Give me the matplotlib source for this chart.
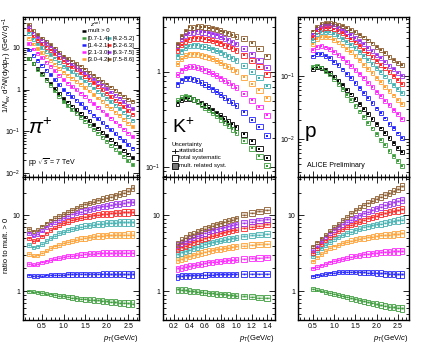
import numpy as np
import matplotlib
matplotlib.use('Agg')
import matplotlib.pyplot as plt
from matplotlib.ticker import MultipleLocator, LogLocator, FuncFormatter, NullFormatter
from matplotlib.patches import Rectangle

plt.rcParams['font.family'] = ['Liberation Sans', 'DejaVu Sans']
plt.rcParams['mathtext.fontset'] = 'custom'
plt.rcParams['mathtext.rm'] = 'Liberation Sans'
plt.rcParams['mathtext.it'] = 'Liberation Sans:italic'
plt.rcParams['mathtext.bf'] = 'Liberation Sans:bold'

# ---------------- data ----------------
classes = ['mult > 0', '[0.7-1.4]', '[1.4-2.1]', '[2.1-3.0]', '[3.0-4.2]',
           '[4.2-5.2]', '[5.2-6.3]', '[6.3-7.5]', '[7.5-8.6]']
colors = ['#000000', '#3c9c3c', '#2222ff', '#ff22ff', '#ffa030',
          '#40b0b0', '#ff2222', '#a030f0', '#8b5a2b']

# pi+
pi_pt = [0.2, 0.3, 0.4, 0.5, 0.6, 0.7, 0.8, 0.9, 1.0, 1.1, 1.2, 1.3, 1.4,
         1.5, 1.6, 1.7, 1.8, 1.9, 2.0, 2.1, 2.2, 2.3, 2.4, 2.5, 2.6]
pi_mb = [5.5, 4.2, 3.2, 2.4, 1.8, 1.38, 1.05, 0.79, 0.60, 0.49, 0.40, 0.33, 0.27,
         0.22, 0.18, 0.145, 0.118, 0.096, 0.078, 0.064, 0.052, 0.043, 0.035, 0.028, 0.023]
pi_r1 = [1.0, 0.99, 0.97, 0.95, 0.93, 0.91, 0.89, 0.87, 0.86, 0.84, 0.83, 0.81, 0.80,
         0.79, 0.78, 0.77, 0.76, 0.75, 0.74, 0.73, 0.72, 0.71, 0.71, 0.70, 0.69]
pi_r2 = [1.62, 1.60, 1.60, 1.61, 1.62, 1.63, 1.64, 1.65, 1.66, 1.67, 1.67, 1.68, 1.68,
         1.68, 1.69, 1.69, 1.69, 1.69, 1.69, 1.69, 1.69, 1.69, 1.69, 1.69, 1.69]
pi_r3 = [2.3, 2.25, 2.3, 2.4, 2.5, 2.6, 2.7, 2.78, 2.85, 2.9, 2.95, 3.0, 3.05,
         3.1, 3.12, 3.15, 3.17, 3.2, 3.2, 3.2, 3.22, 3.22, 3.22, 3.22, 3.22]
pi_r4 = [3.1, 2.95, 3.0, 3.2, 3.45, 3.7, 3.9, 4.1, 4.3, 4.5, 4.65, 4.8, 4.95,
         5.05, 5.15, 5.25, 5.35, 5.4, 5.45, 5.5, 5.55, 5.6, 5.6, 5.6, 5.6]
pi_r5 = [4.1, 3.8, 3.9, 4.2, 4.6, 5.0, 5.4, 5.8, 6.1, 6.4, 6.7, 6.9, 7.1,
         7.3, 7.4, 7.55, 7.7, 7.8, 7.9, 8.0, 8.0, 8.1, 8.1, 8.1, 8.1]
pi_r6 = [5.0, 4.6, 4.8, 5.3, 5.8, 6.4, 6.9, 7.4, 7.9, 8.3, 8.7, 9.0, 9.3,
         9.6, 9.8, 10.0, 10.2, 10.4, 10.5, 10.6, 10.8, 10.9, 11.0, 11.0, 11.1]
pi_r7 = [5.8, 5.4, 5.7, 6.3, 7.0, 7.6, 8.2, 8.8, 9.3, 9.8, 10.3, 10.8, 11.2,
         11.6, 12.0, 12.4, 12.8, 13.1, 13.4, 13.7, 14.0, 14.3, 14.6, 14.8, 15.0]
pi_r8 = [6.6, 6.2, 6.5, 7.2, 7.9, 8.6, 9.3, 9.9, 10.5, 11.2, 11.9, 12.6, 13.3,
         14.0, 14.6, 15.2, 15.8, 16.4, 17.0, 17.6, 18.3, 19.0, 19.8, 21.0, 23.0]
pi_rsys = [0.05, 0.05, 0.05, 0.05, 0.05, 0.055, 0.055, 0.06, 0.06, 0.065, 0.065, 0.07, 0.07,
           0.075, 0.075, 0.08, 0.08, 0.085, 0.085, 0.09, 0.09, 0.095, 0.095, 0.10, 0.10]

# K+
k_pt = [0.25, 0.3, 0.35, 0.4, 0.45, 0.5, 0.55, 0.6, 0.65, 0.7, 0.75, 0.8, 0.85,
        0.9, 0.95, 1.0, 1.1, 1.2, 1.3, 1.4]
k_mb = [0.47, 0.51, 0.53, 0.53, 0.515, 0.495, 0.47, 0.445, 0.42, 0.395, 0.37, 0.345, 0.32,
        0.30, 0.28, 0.26, 0.22, 0.185, 0.155, 0.125]
k_r1 = [1.06, 1.05, 1.04, 1.02, 1.0, 0.99, 0.97, 0.96, 0.95, 0.94, 0.93, 0.92, 0.91,
        0.90, 0.89, 0.88, 0.86, 0.85, 0.83, 0.82]
k_r2 = [1.57, 1.6, 1.62, 1.62, 1.63, 1.64, 1.64, 1.65, 1.66, 1.66, 1.67, 1.67, 1.68,
        1.68, 1.69, 1.69, 1.70, 1.70, 1.70, 1.70]
k_r3 = [2.0, 2.05, 2.1, 2.15, 2.2, 2.25, 2.3, 2.35, 2.4, 2.43, 2.47, 2.5, 2.53,
        2.56, 2.59, 2.62, 2.67, 2.72, 2.76, 2.8]
k_r4 = [2.6, 2.7, 2.8, 2.9, 3.0, 3.1, 3.2, 3.3, 3.4, 3.48, 3.56, 3.63, 3.7,
        3.77, 3.84, 3.9, 4.0, 4.08, 4.15, 4.2]
k_r5 = [3.1, 3.25, 3.4, 3.55, 3.7, 3.85, 4.0, 4.15, 4.3, 4.42, 4.54, 4.66, 4.78,
        4.9, 5.0, 5.1, 5.3, 5.45, 5.6, 5.7]
k_r6 = [3.6, 3.8, 4.0, 4.2, 4.4, 4.6, 4.8, 5.0, 5.2, 5.4, 5.6, 5.8, 6.0,
        6.2, 6.35, 6.5, 6.8, 7.1, 7.35, 7.6]
k_r7 = [4.1, 4.4, 4.6, 4.9, 5.1, 5.4, 5.6, 5.9, 6.1, 6.35, 6.6, 6.8, 7.0,
        7.2, 7.4, 7.6, 8.0, 8.3, 8.6, 8.9]
k_r8 = [4.2, 4.7, 5.1, 5.6, 5.7, 6.1, 6.4, 6.7, 7.0, 7.3, 7.6, 7.9, 8.2,
        8.5, 8.8, 9.1, 10.2, 10.8, 11.3, 11.8]
k_rsys = [0.09, 0.09, 0.09, 0.09, 0.08, 0.08, 0.08, 0.08, 0.08, 0.08, 0.08, 0.08, 0.08,
          0.08, 0.08, 0.08, 0.08, 0.08, 0.08, 0.08]

# p
p_pt = [0.5, 0.6, 0.7, 0.8, 0.9, 1.0, 1.1, 1.2, 1.3, 1.4, 1.5, 1.6, 1.7,
        1.8, 1.9, 2.0, 2.1, 2.2, 2.3, 2.4, 2.5, 2.6]
p_mb = [0.13, 0.138, 0.134, 0.123, 0.11, 0.096, 0.083, 0.071, 0.060, 0.051, 0.043, 0.036, 0.030,
        0.025, 0.021, 0.0175, 0.0147, 0.0123, 0.0103, 0.0087, 0.0073, 0.0062]
p_r1 = [1.08, 1.05, 1.02, 0.99, 0.96, 0.93, 0.9, 0.87, 0.84, 0.81, 0.79, 0.76, 0.74,
        0.72, 0.70, 0.68, 0.66, 0.65, 0.63, 0.62, 0.61, 0.60]
p_r2 = [1.57, 1.62, 1.66, 1.7, 1.73, 1.76, 1.78, 1.79, 1.8, 1.8, 1.8, 1.79, 1.78,
        1.77, 1.76, 1.75, 1.74, 1.72, 1.71, 1.70, 1.68, 1.67]
p_r3 = [2.0, 2.1, 2.2, 2.3, 2.4, 2.5, 2.6, 2.7, 2.78, 2.86, 2.94, 3.0, 3.06,
        3.12, 3.17, 3.22, 3.26, 3.3, 3.33, 3.36, 3.38, 3.4]
p_r4 = [2.5, 2.8, 3.1, 3.4, 3.7, 3.9, 4.1, 4.3, 4.5, 4.65, 4.8, 4.95, 5.05,
        5.15, 5.25, 5.35, 5.45, 5.5, 5.6, 5.65, 5.7, 5.8]
p_r5 = [2.9, 3.3, 3.7, 4.1, 4.5, 4.9, 5.2, 5.5, 5.8, 6.1, 6.4, 6.7, 7.0,
        7.2, 7.4, 7.6, 7.8, 8.0, 8.2, 8.4, 8.6, 8.8]
p_r6 = [3.2, 3.7, 4.2, 4.7, 5.2, 5.7, 6.2, 6.7, 7.1, 7.5, 7.9, 8.3, 8.7,
        9.1, 9.5, 9.9, 10.3, 10.7, 11.1, 11.4, 11.7, 12.0]
p_r7 = [3.5, 4.0, 4.6, 5.2, 5.8, 6.4, 7.0, 7.6, 8.2, 8.8, 9.4, 10.0, 10.6,
        11.2, 11.8, 12.4, 13.0, 13.6, 14.2, 14.8, 15.4, 16.0]
p_r8 = [3.9, 4.4, 5.0, 5.6, 6.3, 7.0, 7.8, 8.7, 9.6, 10.6, 11.6, 12.6, 13.6,
        14.6, 15.6, 16.6, 17.6, 18.6, 19.7, 20.9, 22.3, 24.0]
p_rsys = [0.05, 0.05, 0.05, 0.055, 0.055, 0.06, 0.06, 0.065, 0.065, 0.07, 0.07, 0.075, 0.075,
          0.08, 0.08, 0.085, 0.085, 0.09, 0.09, 0.095, 0.10, 0.10]

# ---------------- figure ----------------
W, H = 424, 356
fig = plt.figure(figsize=(W / 100, H / 100), dpi=100)


def fax(x0, y0, x1, y1):
    return fig.add_axes([x0 / W, 1 - y1 / H, (x1 - x0) / W, (y1 - y0) / H])


cols = [(23, 139), (163, 275), (298, 409)]
top_y = (17, 177)
bot_y = (177, 320)
axes_top = [fax(c[0], top_y[0], c[1], top_y[1]) for c in cols]
axes_bot = [fax(c[0], bot_y[0], c[1], bot_y[1]) for c in cols]


def logfmt(v, pos):
    e = int(round(np.log10(v)))
    if e == 0:
        return '1'
    if e == 1:
        return '10'
    return r'$10^{%d}$' % e


def style(ax, xmaj, xmin):
    ax.set_yscale('log')
    ax.xaxis.set_major_locator(MultipleLocator(xmaj))
    ax.xaxis.set_minor_locator(MultipleLocator(xmin))
    ax.yaxis.set_major_locator(LogLocator(base=10, numticks=10))
    ax.yaxis.set_minor_locator(LogLocator(base=10, subs=np.arange(2, 10), numticks=10))
    ax.yaxis.set_major_formatter(FuncFormatter(logfmt))
    ax.yaxis.set_minor_formatter(NullFormatter())
    ax.tick_params(which='both', direction='in', top=True, right=True,
                   labelsize=5, width=0.6, pad=2)
    ax.tick_params(which='major', length=4)
    ax.tick_params(which='minor', length=2)
    for s in ax.spines.values():
        s.set_linewidth(1.0)


def draw(ax_t, ax_b, pt, mb, ratios, wbox, sys_top, rsys):
    pt = np.asarray(pt)
    mb = np.asarray(mb)
    wbox = np.asarray(wbox)
    rsys = np.asarray(rsys)
    series = [mb] + [mb * np.asarray(r) for r in ratios]
    for i, y in enumerate(series):
        c = colors[i]
        ax_t.bar(pt, y * 2 * sys_top, bottom=y * (1 - sys_top), width=wbox,
                 fill=False, edgecolor=c, lw=0.6, zorder=2)
        ax_t.plot(pt, y, 's', ms=1.5, color=c, mew=0, zorder=3)
    for i, r in enumerate(ratios):
        c = colors[i + 1]
        r = np.asarray(r)
        ax_b.bar(pt, r * rsys, bottom=r * (1 - rsys * 0.5), width=wbox,
                 color=c, alpha=0.25, lw=0, zorder=1)
        ax_b.bar(pt, r * 2 * rsys, bottom=r * (1 - rsys), width=wbox,
                 fill=False, edgecolor=c, lw=0.6, zorder=2)
        ax_b.errorbar(pt, r, xerr=wbox / 2, fmt='s', ms=1.2, color=c, lw=0.4,
                      mew=0, zorder=3)


for a in axes_top + axes_bot:
    a.set_yscale('log')

pi_w = np.full(len(pi_pt), 0.08)
k_w = np.where(np.asarray(k_pt) <= 1.0, 0.04, 0.08)
p_w = np.full(len(p_pt), 0.08)

draw(axes_top[0], axes_bot[0], pi_pt, pi_mb,
     [pi_r1, pi_r2, pi_r3, pi_r4, pi_r5, pi_r6, pi_r7, pi_r8], pi_w, 0.08, pi_rsys)
draw(axes_top[1], axes_bot[1], k_pt, k_mb,
     [k_r1, k_r2, k_r3, k_r4, k_r5, k_r6, k_r7, k_r8], k_w, 0.06, k_rsys)
draw(axes_top[2], axes_bot[2], p_pt, p_mb,
     [p_r1, p_r2, p_r3, p_r4, p_r5, p_r6, p_r7, p_r8], p_w, 0.07, p_rsys)

xlims = [(0.06, 2.75), (0.06, 1.5), (0.15, 2.76)]
xt = [(0.5, 0.1), (0.2, 0.05), (0.5, 0.1)]
ylims_top = [(0.008, 55), (0.078, 3.8), (0.0025, 0.86)]
for i in range(3):
    for a in (axes_top[i], axes_bot[i]):
        style(a, *xt[i])
        a.set_xlim(*xlims[i])
    axes_top[i].set_ylim(*ylims_top[i])
    axes_bot[i].set_ylim(0.42, 32)
    axes_top[i].tick_params(labelbottom=False)
    axes_bot[i].set_xlabel(r'$p_{\rm T}$(GeV/$c$)', fontsize=5.5, loc='right', labelpad=2)

# particle labels
axes_top[0].text(0.04, 0.27, r'$\pi^{+}$', transform=axes_top[0].transAxes, fontsize=15)
axes_top[1].text(0.08, 0.275, r'K$^{+}$', transform=axes_top[1].transAxes, fontsize=14)
axes_top[2].text(0.06, 0.25, 'p', transform=axes_top[2].transAxes, fontsize=15)
axes_top[0].text(0.045, 0.0875, r'pp $\sqrt{s}$ = 7 TeV', transform=axes_top[0].transAxes,
                 fontsize=5, va='center')
axes_top[2].text(0.08, 0.07, 'ALICE Preliminary', transform=axes_top[2].transAxes,
                 fontsize=5, va='center')

# legend (multiplicity classes)
ax0 = axes_top[0]
ax0.text(0.58, 0.956, r'$z^{\rm sel}$', transform=ax0.transAxes, fontsize=4.5, va='center')
rows = [0.9125, 0.868, 0.824, 0.780, 0.736]
positions = [(0, 0), (0, 1), (0, 2), (0, 3), (0, 4), (1, 1), (1, 2), (1, 3), (1, 4)]
colx = [(0.505, 0.56), (0.72, 0.775)]
for i, (cidx, ridx) in enumerate(positions):
    xs, xt_ = colx[cidx]
    yv = rows[ridx]
    ax0.plot([xs, xs + 0.042], [yv, yv], color=colors[i], lw=1.8,
             transform=ax0.transAxes, solid_capstyle='butt')
    ax0.text(xt_, yv, classes[i], transform=ax0.transAxes, fontsize=4.3, va='center')

# uncertainty legend in K panel
ax1 = axes_top[1]
ax1.text(0.08, 0.206, 'Uncertainty', transform=ax1.transAxes, fontsize=4.3, va='center')
ax1.plot([0.08, 0.135], [0.1625, 0.1625], color='k', lw=0.6, transform=ax1.transAxes)
ax1.plot([0.1075, 0.1075], [0.148, 0.177], color='k', lw=0.6, transform=ax1.transAxes)
ax1.text(0.145, 0.1625, 'statistical', transform=ax1.transAxes, fontsize=4.3, va='center')
ax1.add_patch(Rectangle((0.08, 0.10), 0.055, 0.04, fill=False, edgecolor='k', lw=0.6,
                        transform=ax1.transAxes))
ax1.text(0.145, 0.12, 'total systematic', transform=ax1.transAxes, fontsize=4.3, va='center')
ax1.add_patch(Rectangle((0.08, 0.05), 0.055, 0.04, facecolor='#777777', edgecolor='k', lw=0.6,
                        transform=ax1.transAxes))
ax1.text(0.145, 0.07, 'mult. related syst.', transform=ax1.transAxes, fontsize=4.3, va='center')

# y labels
fig.text(7 / W, 1 - 17 / H, r'1/$N_{\rm ev}$ d$^{2}N$/(d$y$d$p_{\rm T}$) (GeV/$c$)$^{-1}$',
         rotation=90, va='top', ha='center', fontsize=5.5)
fig.text(7 / W, 1 - 245 / H, 'ratio to mult. > 0', rotation=90, va='center', ha='center',
         fontsize=5.5)

fig.savefig('out.png', dpi=100)
